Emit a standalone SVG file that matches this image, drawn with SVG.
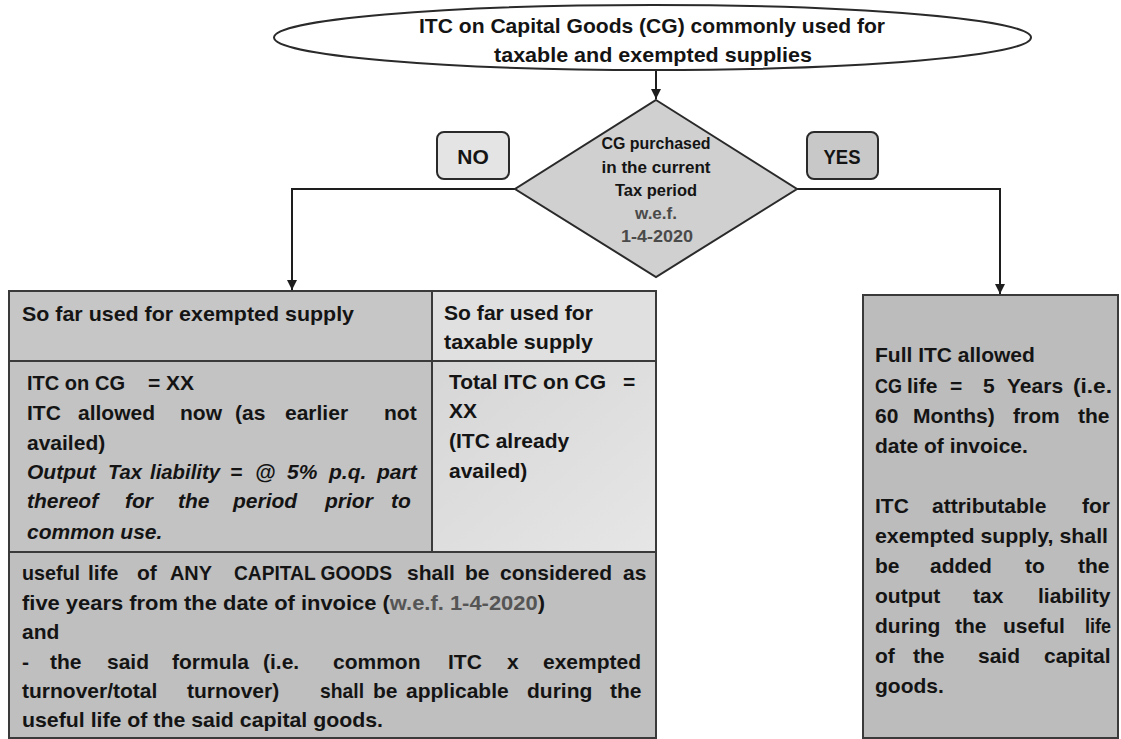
<svg xmlns="http://www.w3.org/2000/svg" width="1121" height="739" viewBox="0 0 1121 739">
<style>
.t{font-family:"Liberation Sans",Arial,sans-serif;font-weight:bold;font-size:21px;fill:#141414}
.ti{font-style:italic}
.dt{font-family:"Liberation Sans",Arial,sans-serif;font-weight:bold;font-size:16px;fill:#141414;text-anchor:middle}
.g{fill:#555555}
.cell{stroke:#3a3a3a;stroke-width:2}
.conn{fill:none;stroke:#1e1e1e;stroke-width:2}
</style>
<defs>
<marker id="arr" viewBox="0 0 10 10" refX="10" refY="5" markerWidth="5" markerHeight="5" orient="auto" markerUnits="strokeWidth">
<path d="M0,0 L10,5 L0,10 z" fill="#1e1e1e"/>
</marker>
<linearGradient id="lg" x1="0" y1="0" x2="1" y2="1">
<stop offset="0" stop-color="#d6d6d6"/>
<stop offset="1" stop-color="#e6e6e6"/>
</linearGradient>
</defs>
<rect width="1121" height="739" fill="#ffffff"/>

<g id="connectors">
<path class="conn" d="M656,70 V99" marker-end="url(#arr)"/>
<path class="conn" d="M515,189 H292 V290" marker-end="url(#arr)"/>
<path class="conn" d="M797,189 H1000 V294" marker-end="url(#arr)"/>
</g>

<g id="start">
<ellipse cx="652.5" cy="37.5" rx="378.5" ry="32.5" fill="#ffffff" stroke="#2a2a2a" stroke-width="2"/>
<text class="t" x="652" y="33" text-anchor="middle" textLength="466" lengthAdjust="spacingAndGlyphs">ITC on Capital Goods (CG) commonly used for</text>
<text class="t" x="653" y="62" text-anchor="middle" textLength="318" lengthAdjust="spacingAndGlyphs">taxable and exempted supplies</text>
</g>

<g id="decision">
<polygon points="656,100 797,189 656,277 515,189" fill="#d0d0d0" stroke="#2a2a2a" stroke-width="2"/>
<text class="dt" x="656" y="149" textLength="109" lengthAdjust="spacingAndGlyphs">CG purchased</text>
<text class="dt" x="656" y="173" textLength="109" lengthAdjust="spacingAndGlyphs">in the current</text>
<text class="dt" x="656" y="196" textLength="82" lengthAdjust="spacingAndGlyphs">Tax period</text>
<text class="dt" x="656" y="219" textLength="42" lengthAdjust="spacingAndGlyphs" style="fill:#4a4a4a">w.e.f.</text>
<text class="dt" x="657" y="242" textLength="72" lengthAdjust="spacingAndGlyphs" style="fill:#4a4a4a">1-4-2020</text>
</g>

<g id="no-label">
<rect x="437" y="132" width="72" height="47" rx="7" fill="#e4e4e4" stroke="#2a2a2a" stroke-width="2"/>
<text class="t" x="473" y="164" text-anchor="middle">NO</text>
</g>

<g id="yes-label">
<rect x="807" y="132" width="71" height="47" rx="7" fill="#c8c8c8" stroke="#2a2a2a" stroke-width="2"/>
<text class="t" x="842" y="164" text-anchor="middle" textLength="37" lengthAdjust="spacingAndGlyphs">YES</text>
</g>

<g id="no-table">
<rect class="cell" x="9" y="291" width="423" height="70" fill="#c6c6c6"/>
<rect class="cell" x="432" y="291" width="224" height="70" fill="#e0e0e0"/>
<rect class="cell" x="9" y="361" width="423" height="191" fill="#c3c3c3"/>
<rect class="cell" x="432" y="361" width="224" height="191" fill="url(#lg)"/>
<rect class="cell" x="9" y="552" width="647" height="186" fill="#bfbfbf"/>

<text class="t" x="22" y="321" textLength="332" lengthAdjust="spacingAndGlyphs">So far used for exempted supply</text>
<text class="t" x="444" y="320" textLength="149" lengthAdjust="spacingAndGlyphs">So far used for</text>
<text class="t" x="444" y="349" textLength="149" lengthAdjust="spacingAndGlyphs">taxable supply</text>

<text class="t" y="390"><tspan x="27" textLength="98" lengthAdjust="spacingAndGlyphs">ITC on CG</tspan><tspan x="148">= XX</tspan></text>
<text class="t" y="420"><tspan x="27">ITC</tspan><tspan x="78">allowed</tspan><tspan x="180">now</tspan><tspan x="235">(as</tspan><tspan x="285">earlier</tspan><tspan x="384">not</tspan></text>
<text class="t" x="27" y="450">availed)</text>
<text class="t ti" y="479"><tspan x="27">Output</tspan><tspan x="108" textLength="34" lengthAdjust="spacingAndGlyphs">Tax</tspan><tspan x="150" textLength="70" lengthAdjust="spacingAndGlyphs">liability</tspan><tspan x="230">=</tspan><tspan x="255">@</tspan><tspan x="287">5%</tspan><tspan x="329">p.q.</tspan><tspan x="377">part</tspan></text>
<text class="t ti" y="508"><tspan x="27">thereof</tspan><tspan x="125">for</tspan><tspan x="178">the</tspan><tspan x="233">period</tspan><tspan x="325">prior</tspan><tspan x="391">to</tspan></text>
<text class="t ti" x="27" y="539">common use.</text>

<text class="t" y="389"><tspan x="449">Total ITC on CG</tspan><tspan x="623">=</tspan></text>
<text class="t" x="449" y="418">XX</text>
<text class="t" x="449" y="448">(ITC already</text>
<text class="t" x="449" y="478">availed)</text>

<text class="t" y="580"><tspan x="22" textLength="58" lengthAdjust="spacingAndGlyphs">useful</tspan><tspan x="88">life</tspan><tspan x="137">of</tspan><tspan x="170" textLength="42" lengthAdjust="spacingAndGlyphs">ANY</tspan><tspan x="234" textLength="158" lengthAdjust="spacingAndGlyphs">CAPITAL GOODS</tspan><tspan x="407">shall</tspan><tspan x="465">be</tspan><tspan x="500">considered</tspan><tspan x="623">as</tspan></text>
<text class="t" x="22" y="610" textLength="523" lengthAdjust="spacingAndGlyphs">five years from the date of invoice (<tspan class="g">w.e.f. 1-4-2020</tspan>)</text>
<text class="t" x="22" y="639">and</text>
<text class="t" y="669"><tspan x="22">-</tspan><tspan x="50">the</tspan><tspan x="107">said</tspan><tspan x="172">formula</tspan><tspan x="263">(i.e.</tspan><tspan x="333">common</tspan><tspan x="448">ITC</tspan><tspan x="507">x</tspan><tspan x="543">exempted</tspan></text>
<text class="t" y="698"><tspan x="22">turnover/total</tspan><tspan x="187">turnover)</tspan><tspan x="320" textLength="44" lengthAdjust="spacingAndGlyphs">shall</tspan><tspan x="373">be</tspan><tspan x="406">applicable</tspan><tspan x="527">during</tspan><tspan x="610">the</tspan></text>
<text class="t" x="22" y="727" textLength="361" lengthAdjust="spacingAndGlyphs">useful life of the said capital goods.</text>
</g>

<g id="yes-box">
<rect class="cell" x="863" y="295" width="255" height="443" fill="#bcbcbc"/>
<text class="t" x="875" y="362">Full ITC allowed</text>
<text class="t" y="393"><tspan x="875" textLength="27" lengthAdjust="spacingAndGlyphs">CG</tspan><tspan x="907">life</tspan><tspan x="950">=</tspan><tspan x="983">5</tspan><tspan x="1007">Years</tspan><tspan x="1073" textLength="39" lengthAdjust="spacingAndGlyphs">(i.e.</tspan></text>
<text class="t" y="423"><tspan x="875">60</tspan><tspan x="913">Months)</tspan><tspan x="1013">from</tspan><tspan x="1078">the</tspan></text>
<text class="t" x="875" y="453">date of invoice.</text>
<text class="t" y="513"><tspan x="875">ITC</tspan><tspan x="932">attributable</tspan><tspan x="1082">for</tspan></text>
<text class="t" x="875" y="543" textLength="233" lengthAdjust="spacingAndGlyphs">exempted supply, shall</text>
<text class="t" y="573"><tspan x="875">be</tspan><tspan x="930">added</tspan><tspan x="1025">to</tspan><tspan x="1078">the</tspan></text>
<text class="t" y="603"><tspan x="875">output</tspan><tspan x="973">tax</tspan><tspan x="1038">liability</tspan></text>
<text class="t" y="633"><tspan x="875">during</tspan><tspan x="955">the</tspan><tspan x="1003">useful</tspan><tspan x="1085" textLength="26" lengthAdjust="spacingAndGlyphs">life</tspan></text>
<text class="t" y="663"><tspan x="875">of</tspan><tspan x="913">the</tspan><tspan x="978">said</tspan><tspan x="1044">capital</tspan></text>
<text class="t" x="875" y="693">goods.</text>
</g>
</svg>
